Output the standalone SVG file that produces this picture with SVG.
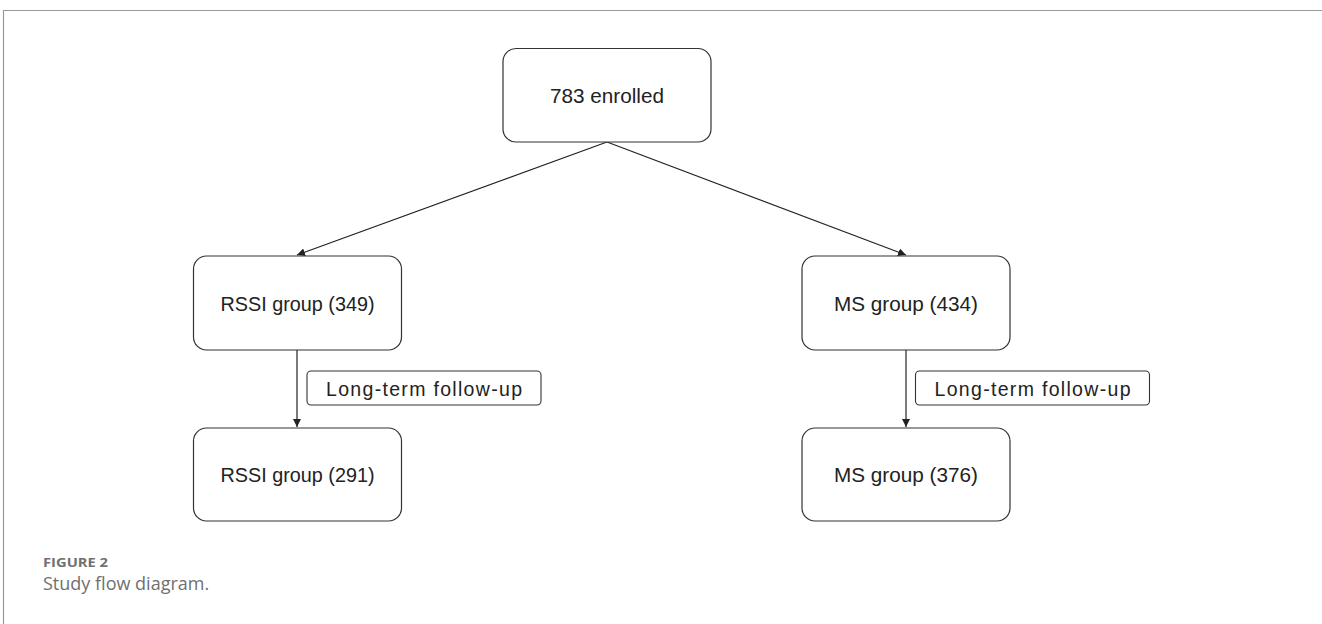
<svg xmlns="http://www.w3.org/2000/svg" width="1322" height="624" viewBox="0 0 1322 624">
<style>
.frame{stroke:#999;stroke-width:1.2;fill:none}
.node rect{fill:#fff;stroke:#333;stroke-width:1.2}
.node text{font-family:"Liberation Sans",Arial,sans-serif;font-size:21px;fill:#222;text-anchor:middle}
.lbl rect{fill:#fff;stroke:#333;stroke-width:1.1}
.lbl text{font-family:"Liberation Sans",Arial,sans-serif;font-size:19.5px;fill:#222;text-anchor:middle}
.conn line{stroke:#222;stroke-width:1.2}
.cap1{font-family:"Open Sans","Liberation Sans",sans-serif;font-size:13px;font-weight:bold;fill:#707070}
.cap2{font-family:"Open Sans","Liberation Sans",sans-serif;font-size:18px;fill:#707070}
</style>
<defs>
<marker id="ah" viewBox="0 0 10 10" refX="10" refY="5" markerWidth="8" markerHeight="8" markerUnits="userSpaceOnUse" orient="auto">
<path d="M0,0 L10,5 L0,10 z" fill="#222"/>
</marker>
</defs>
<rect width="1322" height="624" fill="#fff"/>
<path class="frame" d="M3.5,624 V10.5 H1322"/>
<g id="connectors" class="conn">
<line x1="607" y1="142" x2="297" y2="255" marker-end="url(#ah)"/>
<line x1="607" y1="142" x2="906" y2="255" marker-end="url(#ah)"/>
<line x1="297" y1="350" x2="297" y2="427" marker-end="url(#ah)"/>
<line x1="906" y1="350" x2="906" y2="427" marker-end="url(#ah)"/>
</g>
<g id="n-enrolled" class="node"><rect x="503" y="48.5" width="208" height="93.5" rx="13"/><text x="607" y="102.5" textLength="114" lengthAdjust="spacingAndGlyphs">783 enrolled</text></g>
<g id="n-rssi349" class="node"><rect x="193.5" y="256" width="208" height="94" rx="13"/><text x="297.5" y="310.5" textLength="154" lengthAdjust="spacingAndGlyphs">RSSI group (349)</text></g>
<g id="n-ms434" class="node"><rect x="802" y="256" width="208" height="94" rx="13"/><text x="906" y="310.5" textLength="144" lengthAdjust="spacingAndGlyphs">MS group (434)</text></g>
<g id="n-rssi291" class="node"><rect x="193.5" y="428" width="208" height="93" rx="13"/><text x="297.5" y="482" textLength="154" lengthAdjust="spacingAndGlyphs">RSSI group (291)</text></g>
<g id="n-ms376" class="node"><rect x="802" y="428" width="208" height="93" rx="13"/><text x="906" y="482" textLength="144" lengthAdjust="spacingAndGlyphs">MS group (376)</text></g>
<g id="l-left" class="lbl"><rect x="307" y="371" width="234" height="34" rx="4"/><text x="424" y="395.5" textLength="196" lengthAdjust="spacing">Long-term follow-up</text></g>
<g id="l-right" class="lbl"><rect x="915.5" y="371" width="234" height="34" rx="4"/><text x="1032.5" y="395.5" textLength="196" lengthAdjust="spacing">Long-term follow-up</text></g>
<text class="cap1" x="43" y="567" textLength="65" lengthAdjust="spacingAndGlyphs">FIGURE 2</text>
<text class="cap2" x="43" y="590">Study flow diagram.</text>
</svg>
